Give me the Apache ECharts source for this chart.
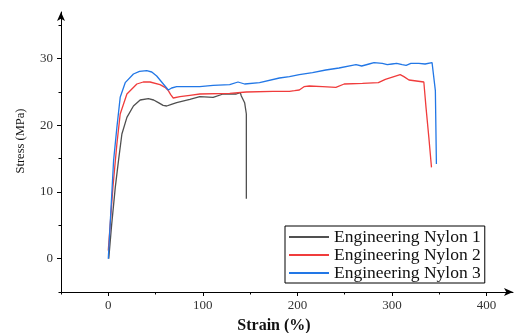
<!DOCTYPE html>
<html><head><meta charset="utf-8">
<script src="https://cdn.jsdelivr.net/npm/echarts@6/dist/echarts.min.js"></script>
<style>html,body{margin:0;padding:0;background:#fff}#c{width:515px;height:333px}</style>
</head><body><div id="c"></div>
<script>
const seriesNames = ['Engineering Nylon 1', 'Engineering Nylon 2', 'Engineering Nylon 3'];
const strain1 = [0.5, 3.5, 7.4, 10.8, 14.4, 19.7, 26.6, 33.7, 42.4, 48, 53, 58, 61.8, 66, 72.3, 86.3, 96.8, 110.9, 121.4, 135.4, 139.6, 140.7, 144.2, 146, 146];
const stress1 = [0, 5, 10.7, 14.7, 18.7, 21.2, 22.9, 23.8, 24.0, 23.8, 23.4, 23.0, 22.9, 23.1, 23.4, 23.9, 24.3, 24.2, 24.7, 24.7, 24.9, 24.4, 23.4, 21.7, 9.0];
const strain2 = [0, 4.9, 9.1, 12.6, 19.7, 30.2, 37, 44.2, 54.7, 60, 63.5, 66, 68.7, 75.8, 86.3, 96.8, 128.4, 146, 174, 191.6, 197, 202, 207, 212.6, 226.6, 240.7, 249.5, 268.8, 285.6, 293, 308.7, 312.6, 318, 333.7, 336, 339, 341.8];
const stress2 = [1.2, 10.7, 17.2, 21.7, 24.7, 26.2, 26.5, 26.5, 26.1, 25.7, 25.2, 24.6, 24.1, 24.3, 24.5, 24.7, 24.8, 25.0, 25.1, 25.1, 25.2, 25.3, 25.8, 25.9, 25.8, 25.7, 26.2, 26.3, 26.4, 26.9, 27.6, 27.3, 26.8, 26.5, 22.7, 18.2, 13.7];
const strain3 = [0, 5.6, 9.1, 12.6, 17.9, 26.6, 33, 40.7, 46, 51.2, 58.2, 63.5, 67, 72.3, 86.3, 96.8, 110.9, 128.4, 137.2, 144.2, 160, 181, 191.6, 202, 216, 230, 244, 258, 262, 268, 275.8, 281, 289.8, 295, 300, 305, 310.8, 315, 320, 328.4, 335, 342.4, 344.2, 345.9, 347];
const stress3 = [0, 14.7, 19.7, 24.2, 26.4, 27.7, 28.1, 28.2, 28.0, 27.4, 26.2, 25.3, 25.6, 25.8, 25.8, 25.8, 26.0, 26.1, 26.5, 26.2, 26.4, 27.1, 27.3, 27.6, 27.9, 28.3, 28.6, 29.0, 29.1, 28.9, 29.2, 29.4, 29.3, 29.1, 29.2, 29.3, 29.1, 29.0, 29.3, 29.3, 29.2, 29.4, 29.2, 25.2, 14.2];
const xMajorTicks = [0, 100, 200, 300, 400];
const xMinorTicks = [-50, 50, 150, 250, 350];
const yMajorTicks = [0, 10, 20, 30];
const yMinorTicks = [-5, 5, 15, 25, 35];
const colors = ['#505050', '#f03c3c', '#2277e6'];

function zip(a, b) { return a.map((v, i) => [v, b[i]]); }
const serif = '"Liberation Serif", "DejaVu Serif", serif';
const chart = echarts.init(document.getElementById('c'));
const XMIN = -50, XMAX = 428, YMIN = -5, YMAX = 37;
chart.setOption({
  animation: false,
  grid: { left: 61, right: 2, top: 12, bottom: 41, containLabel: false, outerBoundsMode: 'none' },
  legend: {
    orient: 'vertical', left: 285, top: 226,
    borderColor: '#000', borderWidth: 1, borderRadius: 0,
    padding: [2, 4, 1, 3], itemGap: 0, itemWidth: 40, itemHeight: 11,
    itemStyle: { opacity: 0 },
    textStyle: { fontFamily: serif, fontSize: 17.5, lineHeight: 16, color: '#111' },
    data: seriesNames
  },
  xAxis: [{
    type: 'value', min: XMIN, max: XMAX, name: 'Strain (%)', nameLocation: 'middle', nameGap: 26,
    nameTextStyle: { fontFamily: serif, fontSize: 16, fontWeight: 'bold', color: '#111', padding: [0, 26, 0, 0] },
    axisLine: { show: true, onZero: false, lineStyle: { color: '#000', width: 1 }, symbol: ['none', 'arrow'], symbolSize: [6, 9] },
    axisTick: { show: true, length: 4, customValues: xMajorTicks, lineStyle: { color: '#000' } },
    axisLabel: { customValues: xMajorTicks, fontFamily: serif, fontSize: 13, color: '#333', margin: 7 },
    splitLine: { show: false }
  }, {
    type: 'value', min: XMIN, max: XMAX, position: 'bottom', offset: 0,
    axisLine: { show: false, onZero: false },
    axisTick: { show: true, length: 2.5, customValues: xMinorTicks, lineStyle: { color: '#000' } },
    axisLabel: { show: false }, splitLine: { show: false }
  }],
  yAxis: [{
    type: 'value', min: YMIN, max: YMAX, name: 'Stress (MPa)', nameLocation: 'middle', nameGap: 34,
    nameTextStyle: { fontFamily: serif, fontSize: 12.5, color: '#111', padding: [0, 0, 0, 22] },
    axisLine: { show: true, onZero: false, lineStyle: { color: '#000', width: 1 }, symbol: ['none', 'arrow'], symbolSize: [6, 9] },
    axisTick: { show: true, length: 4, customValues: yMajorTicks, lineStyle: { color: '#000' } },
    axisLabel: { customValues: yMajorTicks, fontFamily: serif, fontSize: 13, color: '#333', margin: 8 },
    splitLine: { show: false }
  }, {
    type: 'value', min: YMIN, max: YMAX, position: 'left', offset: 0,
    axisLine: { show: false, onZero: false },
    axisTick: { show: true, length: 2.5, customValues: yMinorTicks, lineStyle: { color: '#000' } },
    axisLabel: { show: false }, splitLine: { show: false }
  }],
  series: [
    { name: seriesNames[0], type: 'line', symbol: 'none', data: zip(strain1, stress1), color: colors[0], lineStyle: { width: 1.3 } },
    { name: seriesNames[1], type: 'line', symbol: 'none', data: zip(strain2, stress2), color: colors[1], lineStyle: { width: 1.3 } },
    { name: seriesNames[2], type: 'line', symbol: 'none', data: zip(strain3, stress3), color: colors[2], lineStyle: { width: 1.3 } }
  ]
});
</script></body></html>
